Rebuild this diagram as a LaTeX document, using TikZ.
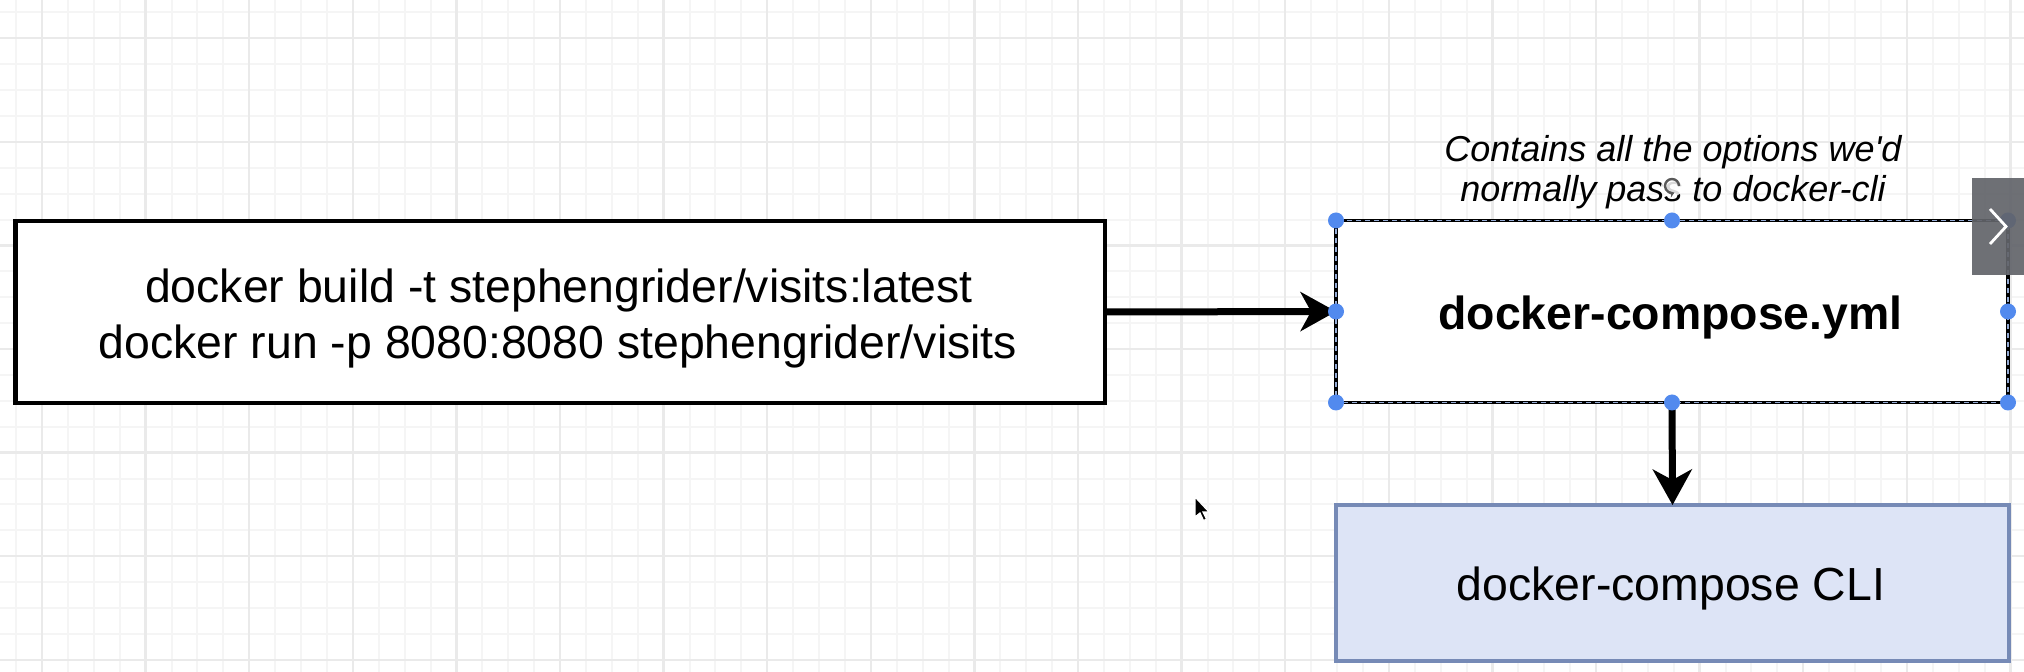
\documentclass[tikz,border=0pt]{standalone}
\usepackage{fontspec}
\setmainfont{Liberation Sans}[Ligatures=TeXOff]
\usetikzlibrary{arrows.meta}
\definecolor{gridminor}{RGB}{245,245,245}
\definecolor{gridmajor}{RGB}{234,234,234}
\definecolor{handleblue}{RGB}{82,138,238}
\definecolor{clifill}{RGB}{221,228,246}
\definecolor{cliborder}{RGB}{118,138,182}
\definecolor{selblue}{RGB}{150,172,214}
\definecolor{btngray}{RGB}{98,100,106}
\begin{document}
\begin{tikzpicture}[x=0.5pt,y=-0.5pt,
  cmdbox/.style={draw=black, line width=2.25pt, fill=white, inner sep=0pt, outer sep=0pt,
    minimum width=544.75pt, minimum height=91pt},
  ymlbox/.style={draw=black, line width=1.75pt, fill=white, inner sep=0pt, outer sep=0pt,
    minimum width=336pt, minimum height=91pt},
  clibox/.style={draw=cliborder, line width=2pt, fill=clifill, inner sep=0pt, outer sep=0pt,
    minimum width=336.5pt, minimum height=78pt},
  bigtxt/.style={font=\fontsize{23.2pt}{28pt}\selectfont, inner sep=0pt, anchor=base},
  notetxt/.style={font=\fontsize{18pt}{22pt}\selectfont\itshape, inner sep=0pt, anchor=base},
  conn/.style={line width=3.5pt, -{Stealth[length=18pt,width=20pt,inset=5.5pt,line width=0pt]}},
  handle/.style={fill=handleblue}
]
% background and bounding box
\fill[white] (0,0) rectangle (2024,672);
\useasboundingbox (0,0) rectangle (2024,672);
% grid
\foreach \i in {0,...,78} {\draw[gridminor, line width=1pt] ({16.1+25.9*\i},0) -- ({16.1+25.9*\i},672);}
\foreach \i in {0,...,25} {\draw[gridminor, line width=1pt] (0,{12.4+25.9*\i}) -- (2024,{12.4+25.9*\i});}
\foreach \i in {0,...,19} {\draw[gridmajor, line width=1.2pt] ({42+103.6*\i},0) -- ({42+103.6*\i},672);}
\foreach \i in {0,...,6} {\draw[gridmajor, line width=1.2pt] (0,{38.3+103.6*\i}) -- (2024,{38.3+103.6*\i});}

% boxes
\node[cmdbox] (cmd) at (560,312) {};
\node[bigtxt] (cmdl1) at (559,303) {docker build -t stephengrider/visits:latest};
\node[bigtxt] (cmdl2) at (558,359) {docker run -p 8080:8080 stephengrider/visits};

\node[ymlbox] (yml) at (1672,311.5) {};
\draw[selblue, line width=0.7pt, dash pattern=on 2.5pt off 2pt] (yml.north west) rectangle (yml.south east);
\node[bigtxt, font=\fontsize{23.2pt}{28pt}\selectfont\bfseries] (ymltxt) at (1670.5,330) {docker-compose.yml};

\node[notetxt] (note1) at (1673,162) {Contains all the options we'd};
\node[notetxt] (note2) at (1673,202) {normally pass to docker-cli};

\node[clibox] (cli) at (1672.5,583) {};
\node[bigtxt] (clitxt) at (1671,601) {docker-compose CLI};

% connectors
\draw[conn] (cmd.east) -- (yml.west);
\draw[conn] (yml.south) -- (cli.north);

% selection handles
\foreach \a in {north west,north,north east,west,east,south west,south,south east}
  {\fill[handle] (yml.\a) circle[radius=4pt];}

% rotation cursor icon
\fill[white, opacity=0.85] (1672,186) circle[radius=5.5pt];
\draw[black!65, line width=1.2pt, -{Stealth[length=2.5pt,width=3.5pt]}]
  ([shift={(3.5pt,0pt)}]1672,186) arc[start angle=0, end angle=290, radius=3.5pt];

% video player button
\fill[btngray, opacity=0.92] (1972,178) rectangle (2024,275);
\draw[white, line width=1.4pt] (1990,209) -- (2006,226.5) -- (1990,244);

% mouse pointer
\filldraw[fill=black, draw=white, line width=0.6pt]
  (1195,497) -- ++(0,20) -- ++(5,-4) -- ++(3.5,7.5) -- ++(3,-1.3) -- ++(-3.5,-7.2) -- ++(6,0) -- cycle;
\end{tikzpicture}
\end{document}
